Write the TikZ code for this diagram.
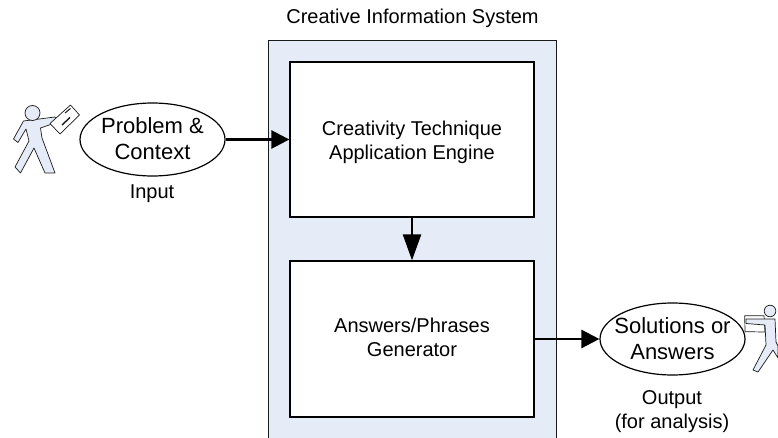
\documentclass[tikz,border=0pt]{standalone}
\usepackage{fontspec}
\setmainfont{Liberation Sans}
\usetikzlibrary{arrows.meta,shapes.geometric}
\definecolor{sysfill}{HTML}{E6ECF7}
\definecolor{linecol}{HTML}{1A1A1A}
\tikzset{
  blockbox/.style={draw=black,line width=1.3pt,fill=white,inner sep=0pt},
  oval/.style={draw=black,line width=1.2pt,fill=white},
  ovaltext/.style={align=center,font=\fontsize{22}{26}\selectfont,inner sep=0pt},
  plain/.style={align=center,font=\fontsize{20}{24}\selectfont,inner sep=0pt},
  flow/.style={line width=2.6pt,draw=black,-{Triangle[length=18pt,width=18pt]}},
  flowlong/.style={line width=2.6pt,draw=black,-{Triangle[length=26pt,width=18pt]}},
  actor/.style={draw=linecol,line width=0.7pt,fill=sysfill,line join=round},
  inkmark/.style={draw=linecol,line width=1.4pt}
}
\begin{document}
\begin{tikzpicture}[x=1pt,y=-1pt]
\useasboundingbox (0,0) rectangle (778,438);
% system panel
\fill[sysfill] (268,40.5) rectangle (556,438);
\draw[draw=linecol,line width=0.8pt] (268,438) -- (268,40.5) -- (556,40.5) -- (556,438);
\node[plain] (title) at (412.5,18) {Creative Information System};
% blocks
\node[blockbox,minimum width=244pt,minimum height=155pt] (engine) at (412,139.5) {};
\node[plain] (enginetext) at (412,142) {Creativity Technique\\Application Engine};
\node[blockbox,minimum width=244pt,minimum height=156pt] (gen) at (412,339) {};
\node[plain] (gentext) at (412,337.5) {Answers/Phrases\\Generator};
% left actor
\draw[actor] (55,117) -- (23.5,121) -- (13.5,139) -- (18,142.5) -- (26,129) -- (29,141) -- (15,167) -- (20.5,173) -- (34,148) -- (45,173) -- (55,173) -- (42,138) -- (40.5,128) -- (58,122) -- cycle;
\draw[actor] (32.5,113) circle (7.5);
\draw[actor,fill=white] (50,123.5) -- (70.5,105) -- (79.5,115) -- (60,134) -- cycle;
\draw[inkmark] (62,125) -- (70,117.5);
\draw[inkmark,line width=1pt] (65,113) -- (70.5,108.5);
% right actor
\draw[actor,fill=white] (744.7,315.7) -- (764,315.7) -- (765,332) -- (745,331.7) -- cycle;
\draw[actor] (746,319) -- (775,319) -- (776,342) -- (778,346) -- (778,358) -- (773,350) -- (758,372) -- (753,370) -- (766,345) -- (765,325) -- (746,323.5) -- cycle;
\draw[actor] (770,311) circle (5.8);
% ovals
\node[oval,ellipse,minimum width=145pt,minimum height=73pt,inner sep=0pt] (problem) at (152.5,139.5) {};
\node[oval,ellipse,minimum width=145pt,minimum height=72pt,inner sep=0pt] (solutions) at (672.5,339) {};
\node[ovaltext] (problemtext) at (152.5,139) {Problem \&\\Context};
\node[ovaltext] (solutionstext) at (672.5,338.5) {Solutions or\\Answers};
\node[plain] (input) at (152,194) {Input};
\node[plain] (output) at (672,412) {Output\\(for analysis)};
% connectors
\draw[flow] (problem.east) -- (engine.west);
\draw[flowlong] (engine.south) -- (gen.north);
\draw[flow] (gen.east) -- (solutions.west);
\end{tikzpicture}
\end{document}
